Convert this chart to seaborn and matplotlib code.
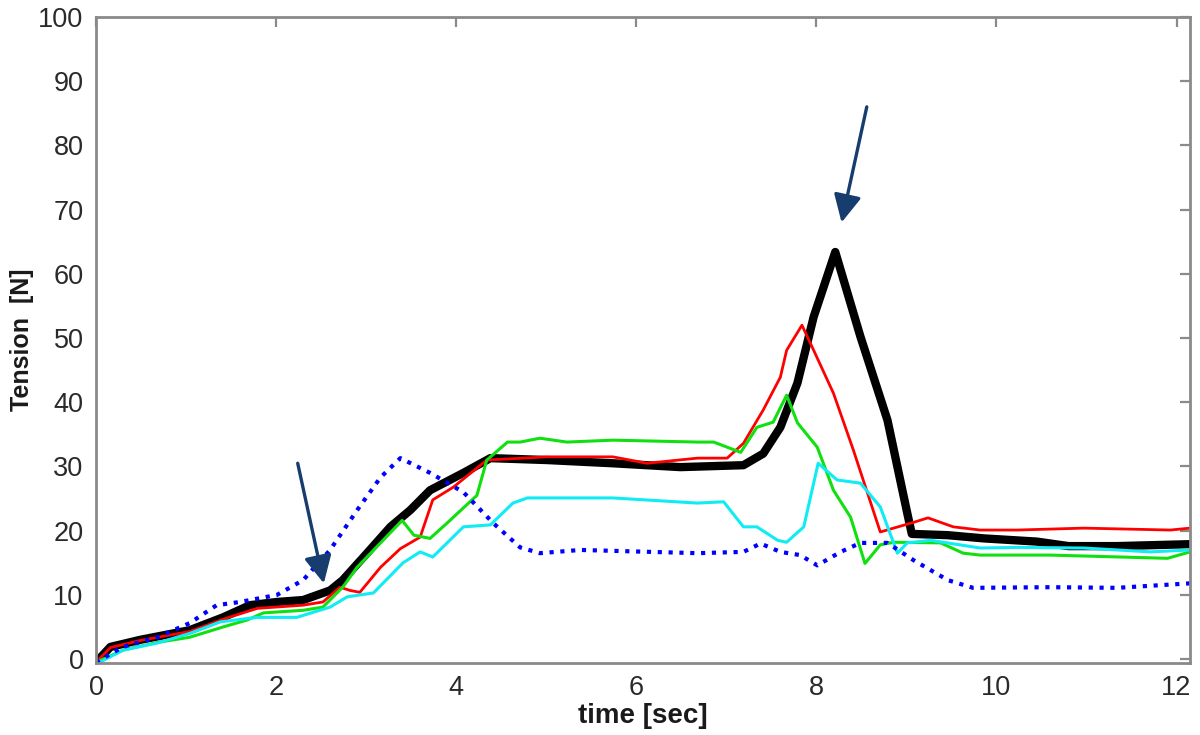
import pandas as pd
import matplotlib
matplotlib.use("Agg")
import matplotlib.pyplot as plt
import seaborn as sns

# ---------------- DATA ----------------
black_t = [0, 0.16, 0.49, 1.04, 1.41, 1.71, 2.01, 2.3, 2.6, 2.74, 3.01, 3.27, 3.49, 3.71, 4.08, 4.38,
           5.01, 5.74, 6.49, 7.19, 7.41, 7.6, 7.79, 7.97, 8.21, 8.49, 8.79, 9.01, 9.06, 9.46, 9.86,
           10.45, 10.8, 11.34, 12.15]
black_y = [-0.5, 1.9, 3.0, 4.5, 6.5, 8.4, 8.9, 9.2, 10.7, 12.3, 16.5, 20.6, 23.2, 26.3, 29.0, 31.3,
           31.0, 30.5, 29.9, 30.2, 32.0, 36.1, 43.0, 53.3, 63.4, 50.2, 37.2, 22.7, 19.5, 19.3, 18.8,
           18.3, 17.6, 17.6, 17.9]

red_t = [0, 0.16, 0.49, 1.04, 1.41, 1.79, 2.3, 2.52, 2.71, 2.82, 2.93, 3.16, 3.38, 3.6, 3.74, 3.97,
         4.34, 5.01, 5.74, 6.12, 6.68, 7.01, 7.19, 7.41, 7.6, 7.67, 7.84, 7.97, 8.19, 8.41, 8.71,
         9.08, 9.24, 9.52, 9.82, 10.23, 10.97, 11.93, 12.15]
red_y = [-0.5, 1.8, 2.9, 4.3, 6.2, 7.9, 8.4, 8.9, 11.2, 10.7, 10.4, 14.3, 17.2, 19.0, 24.8, 26.8,
         31.0, 31.5, 31.5, 30.5, 31.3, 31.3, 33.6, 38.8, 43.9, 48.1, 52.0, 48.1, 41.4, 32.6, 19.8,
         21.3, 22.0, 20.6, 20.1, 20.1, 20.4, 20.1, 20.4]

green_t = [0, 0.3, 0.68, 1.04, 1.41, 1.68, 1.86, 2.3, 2.52, 2.74, 2.9, 3.4, 3.53, 3.71, 3.9, 4.23,
           4.34, 4.57, 4.71, 4.93, 5.23, 5.74, 6.68, 6.86, 7.16, 7.34, 7.52, 7.67, 7.79, 8.01, 8.19,
           8.38, 8.54, 8.71, 8.86, 9.38, 9.63, 9.82, 10.6, 11.9, 12.15]
green_y = [-0.5, 1.4, 2.6, 3.4, 5.0, 6.1, 7.2, 7.6, 8.1, 11.2, 14.3, 21.6, 19.3, 18.8, 21.2, 25.5,
           31.0, 33.8, 33.8, 34.4, 33.8, 34.1, 33.8, 33.8, 32.2, 36.1, 36.9, 41.1, 36.8, 33.0, 26.3,
           22.1, 14.9, 17.8, 18.2, 18.1, 16.5, 16.2, 16.2, 15.7, 16.7]

cyan_t = [0, 0.3, 0.68, 1.04, 1.38, 1.79, 2.23, 2.6, 2.79, 3.08, 3.41, 3.6, 3.74, 4.08, 4.38, 4.63,
          4.79, 5.38, 5.74, 6.68, 6.97, 7.19, 7.34, 7.57, 7.67, 7.86, 8.02, 8.23, 8.49, 8.71, 8.9,
          9.01, 9.27, 9.82, 10.23, 10.97, 11.71, 12.15]
cyan_y = [-0.8, 1.4, 2.5, 4.0, 5.8, 6.5, 6.5, 8.1, 9.7, 10.3, 15.0, 16.7, 15.9, 20.6, 20.9, 24.3,
          25.1, 25.1, 25.1, 24.3, 24.5, 20.6, 20.6, 18.5, 18.2, 20.6, 30.5, 27.9, 27.4, 23.7, 16.5,
          18.1, 18.5, 17.3, 17.4, 17.3, 16.7, 17.0]

blue_t = [0, 0.3, 0.68, 1.04, 1.34, 1.6, 2.01, 2.3, 2.6, 2.9, 3.16, 3.38, 3.71, 4.08, 4.41, 4.71,
          4.93, 5.38, 6.68, 7.19, 7.38, 7.6, 7.82, 8.01, 8.27, 8.49, 8.79, 9.08, 9.46, 9.74, 10.6,
          11.34, 12.15]
blue_y = [-0.5, 1.9, 3.4, 5.6, 8.4, 8.9, 10.0, 12.3, 17.0, 23.2, 28.3, 31.3, 29.0, 26.0, 21.2, 17.4,
          16.5, 17.0, 16.5, 16.7, 18.0, 16.7, 16.2, 14.6, 16.7, 18.1, 18.1, 15.4, 12.3, 11.1, 11.2,
          11.1, 11.8]

# arrows: (tail_t, tail_y, tip_t, tip_y)
arrows = [(2.24, 30.5, 2.53, 11.8), (8.56, 86.0, 8.28, 68.0)]

x_ticks = [0, 2, 4, 6, 8, 10, 12]
y_ticks = [0, 10, 20, 30, 40, 50, 60, 70, 80, 90, 100]

# ---------------- STYLE ----------------
sns.set_style("white")
plt.rcParams['font.family'] = ['Liberation Sans', 'DejaVu Sans']

fig = plt.figure(figsize=(12, 7.35), dpi=100)
ax = fig.add_axes([0.08, 0.098, 0.9117, 0.8789])

series = [
    (black_t, black_y, "black", 6.0, "-"),
    (red_t, red_y, "#ff0000", 2.0, "-"),
    (green_t, green_y, "#10e010", 2.2, "-"),
    (cyan_t, cyan_y, "#10ecf4", 2.2, "-"),
    (blue_t, blue_y, "#0000ff", 3.0, (0, (1, 1.6))),
]
for t, y, col, lw, ls in series:
    d = pd.DataFrame({"t": t, "y": y})
    sns.lineplot(data=d, x="t", y="y", color=col, lw=lw, linestyle=ls,
                 estimator=None, sort=False, ax=ax,
                 solid_joinstyle="round", solid_capstyle="round")

for tx, ty, hx, hy in arrows:
    ax.annotate("", xy=(hx, hy), xytext=(tx, ty),
                arrowprops=dict(arrowstyle="-|>", color="#173d6e", lw=2.4,
                                mutation_scale=42, shrinkA=0, shrinkB=0))

ax.set_xlim(0, 12.15)
ax.set_ylim(-0.6, 100)
ax.set_xticks(x_ticks)
ax.set_yticks(y_ticks)

for s in ax.spines.values():
    s.set_color("#8a8a8a")
    s.set_linewidth(2.0)
ax.tick_params(direction="in", length=7, width=1.6, color="#8a8a8a",
               top=True, right=True, labelsize=19.5, labelcolor="#2a2a2a", pad=9)

ax.set_xlabel("time [sec]", fontsize=20, fontweight="bold", color="#1a1a1a", labelpad=1)
ax.set_ylabel("Tension  [N]", fontsize=18, fontweight="bold", color="#1a1a1a", labelpad=3)

fig.savefig("out.png", dpi=100)
